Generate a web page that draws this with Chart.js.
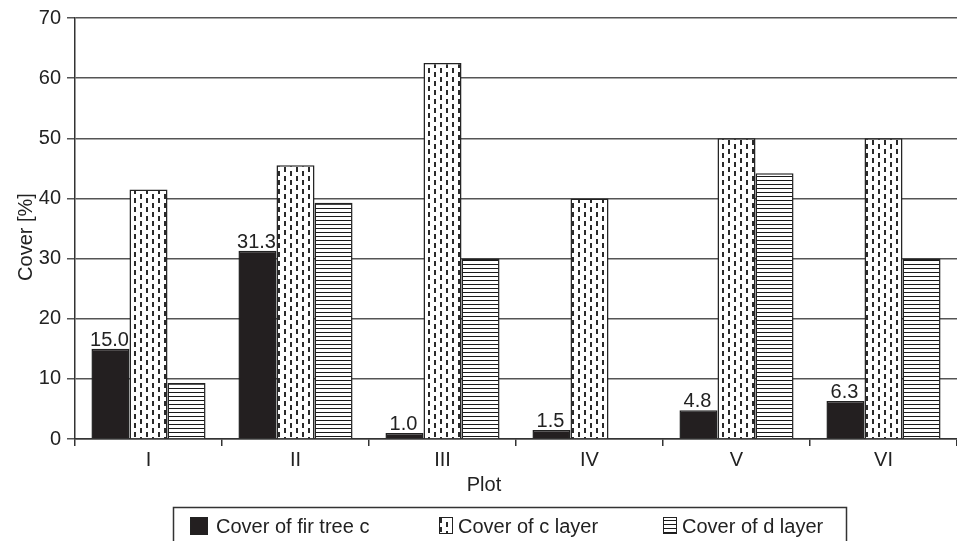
<!DOCTYPE html>
<html>
<head>
<meta charset="utf-8">
<script src="https://cdn.jsdelivr.net/npm/chart.js@4.4.1/dist/chart.umd.min.js"></script>
<style>
  html, body { margin: 0; padding: 0; background: #fff; }
</style>
</head>
<body>
<canvas id="coverChart" width="957" height="541"></canvas>
<script>
// data
const plots = ['I', 'II', 'III', 'IV', 'V', 'VI'];
const firTree = [15.0, 31.3, 1.0, 1.5, 4.8, 6.3];
const cLayer = [41.5, 45.5, 62.5, 40.0, 50.0, 50.0];
const dLayer = [9.3, 39.3, 30.0, 0, 44.2, 30.0];
const seriesNames = ['Cover of fir tree c', 'Cover of c layer', 'Cover of d layer'];
const yMin = 0, yMax = 70, yStep = 10;

const FONT = '"Liberation Sans", Arial, sans-serif';
const INK = '#222';

// vertical dashes, staggered
function dashPattern() {
    const c = document.createElement('canvas');
    c.width = 12; c.height = 9;
    const g = c.getContext('2d');
    g.fillStyle = '#fff';
    g.fillRect(0, 0, 12, 9);
    g.fillStyle = '#2a2a2a';
    g.fillRect(2, 0, 2, 5);
    g.fillRect(8, 5, 2, 4);
    g.fillRect(8, 0, 2, 1);
    return g.createPattern(c, 'repeat');
}

// horizontal lines
function stripePattern() {
    const c = document.createElement('canvas');
    c.width = 4; c.height = 4;
    const g = c.getContext('2d');
    g.fillStyle = '#fff';
    g.fillRect(0, 0, 4, 4);
    g.fillStyle = '#1a1a1a';
    g.fillRect(0, 0, 4, 1);
    return g.createPattern(c, 'repeat');
}

const fills = ['#231f20', dashPattern(), stripePattern()];

// labels over the black bars, axis titles and the boxed legend
const decorations = {
    id: 'decorations',
    afterDatasetsDraw(chart) {
        const ctx = chart.ctx;
        const meta = chart.getDatasetMeta(0);
        ctx.save();
        ctx.font = '20px ' + FONT;
        ctx.fillStyle = INK;
        ctx.textAlign = 'center';
        ctx.textBaseline = 'alphabetic';
        meta.data.forEach((bar, i) => {
            ctx.fillText(firTree[i].toFixed(1), bar.x - 1, bar.y - 3);
        });
        ctx.restore();
    },
    afterDraw(chart) {
        const ctx = chart.ctx;
        ctx.save();
        ctx.font = '20px ' + FONT;
        ctx.fillStyle = INK;

        // axis titles
        ctx.textAlign = 'center';
        ctx.textBaseline = 'middle';
        ctx.fillText('Plot', 484, 485);
        ctx.save();
        ctx.translate(26, 237);
        ctx.rotate(-Math.PI / 2);
        ctx.fillText('Cover [%]', 0, 0);
        ctx.restore();

        // legend
        ctx.strokeStyle = '#333';
        ctx.lineWidth = 1.5;
        ctx.strokeRect(173.5, 507.5, 673, 60);
        const keys = [
            { x: 190, w: 18, h: 18, tx: 216 },
            { x: 439, w: 14, h: 17, tx: 458 },
            { x: 663, w: 14, h: 17, tx: 682 }
        ];
        ctx.textAlign = 'left';
        ctx.textBaseline = 'alphabetic';
        seriesNames.forEach((name, i) => {
            const k = keys[i];
            ctx.fillStyle = fills[i];
            ctx.fillRect(k.x, 517, k.w, k.h);
            ctx.lineWidth = 1;
            ctx.strokeStyle = '#222';
            ctx.strokeRect(k.x + 0.5, 517.5, k.w - 1, k.h - 1);
            ctx.fillStyle = INK;
            ctx.fillText(name, k.tx, 533);
        });
        ctx.restore();
    }
};

new Chart(document.getElementById('coverChart'), {
    type: 'bar',
    data: {
        labels: plots,
        datasets: [firTree, cLayer, dLayer].map((values, i) => ({
            label: seriesNames[i],
            data: values,
            backgroundColor: fills[i],
            borderColor: '#222',
            borderWidth: 1.5,
            barPercentage: 1.0,
            categoryPercentage: 0.776
        }))
    },
    options: {
        responsive: false,
        animation: false,
        layout: { padding: { top: 16, left: 0, right: 0, bottom: 0 } },
        plugins: {
            legend: { display: false },
            tooltip: { enabled: false }
        },
        scales: {
            x: {
                afterFit: s => { s.height = 102; },
                grid: {
                    drawOnChartArea: false,
                    offset: true,
                    tickLength: 7,
                    color: '#333',
                    lineWidth: 1.5
                },
                border: { color: '#333', width: 1.5 },
                ticks: {
                    color: INK,
                    padding: 2,
                    font: { family: FONT, size: 20 }
                }
            },
            y: {
                min: yMin,
                max: yMax,
                afterFit: s => { s.width = 75; },
                grid: {
                    color: '#555',
                    lineWidth: 1.5,
                    tickLength: 8
                },
                border: { color: '#333', width: 1.5 },
                ticks: {
                    stepSize: yStep,
                    color: INK,
                    padding: 6,
                    font: { family: FONT, size: 20 }
                }
            }
        }
    },
    plugins: [decorations]
});
</script>
</body>
</html>
